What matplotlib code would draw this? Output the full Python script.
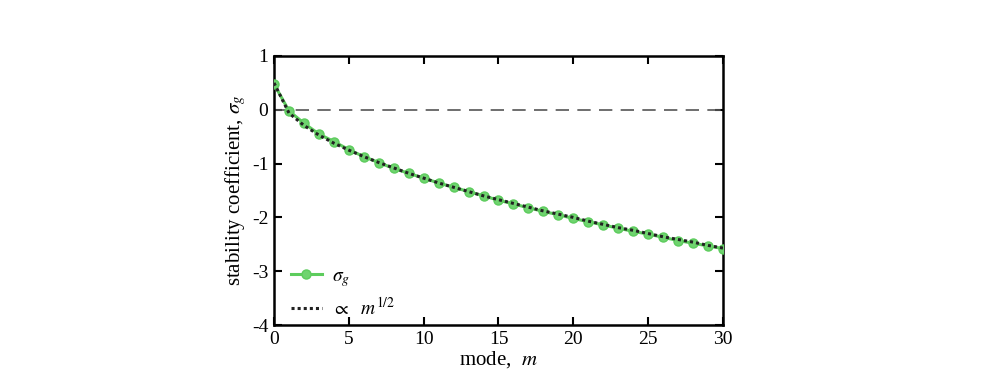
import matplotlib
matplotlib.use("Agg")
import matplotlib.pyplot as plt

modes = list(range(31))
sigma_g = [0.48, -0.02, -0.25, -0.45, -0.59, -0.74, -0.87, -0.98, -1.09, -1.18,
           -1.27, -1.36, -1.44, -1.52, -1.60, -1.68, -1.75, -1.82, -1.89, -1.95,
           -2.02, -2.08, -2.14, -2.20, -2.26, -2.31, -2.37, -2.43, -2.48, -2.53, -2.58]
fit_m = list(range(31))
fit_vals = [0.50, -0.06, -0.29, -0.47, -0.62, -0.75, -0.87, -0.98, -1.08, -1.18,
            -1.27, -1.36, -1.44, -1.52, -1.60, -1.67, -1.74, -1.81, -1.88, -1.94,
            -2.00, -2.07, -2.13, -2.19, -2.24, -2.30, -2.36, -2.41, -2.46, -2.52, -2.57]
xticks = [0, 5, 10, 15, 20, 25, 30]
yticks = [-4, -3, -2, -1, 0, 1]

plt.rcParams['font.family'] = ['Liberation Serif', 'DejaVu Serif']
plt.rcParams['mathtext.fontset'] = 'stix'

fig = plt.figure(figsize=(9.96, 3.83), dpi=100)
ax = fig.add_axes([0.2751, 0.1514, 0.4508, 0.7024])

ax.axhline(0, color='#555555', lw=1.2, dashes=(8, 5))
ax.plot(modes, sigma_g, color='#5dcc5d', lw=2.2, marker='o', ms=6.5,
        mfc='#6fd46f', label=r'$\sigma_g$', zorder=3)
ax.plot(fit_m, fit_vals, color='#222222', lw=2.2, ls=(0, (1, 1)),
        label=r'$\propto$  $m^{1/2}$', zorder=4)

ax.set_xlim(0, 30)
ax.set_ylim(-4, 1)
ax.set_xticks(xticks)
ax.set_yticks(yticks)
ax.set_yticklabels([str(v) for v in yticks])
ax.tick_params(direction='in', top=True, right=True, length=6, width=1.5,
               labelsize=14, pad=4)
for s in ax.spines.values():
    s.set_linewidth(1.8)

ax.set_xlabel(r'mode,  $m$', fontsize=15, labelpad=1)
ax.set_ylabel(r'stability coefficient, $\sigma_g$', fontsize=15, labelpad=3)

ax.legend(loc='lower left', frameon=False, fontsize=14, handlelength=1.6,
          handletextpad=0.5, borderaxespad=0.0, labelspacing=0.4,
          bbox_to_anchor=(0.02, -0.005))

fig.savefig('out.png', dpi=100)
